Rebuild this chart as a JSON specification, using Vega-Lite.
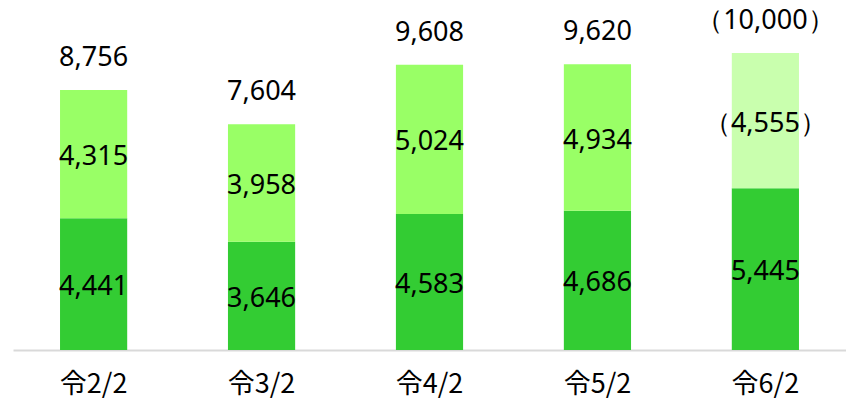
{
  "$schema": "https://vega.github.io/schema/vega-lite/v6.json",
  "width": 833,
  "height": 340,
  "autosize": {"type": "none"},
  "padding": {"left": 13, "top": 10, "right": 0, "bottom": 56},
  "config": {"view": {"stroke": null}, "font": "Noto Sans"},
  "datasets": {
    "segments": [
      {"period": "令2/2", "part": "a_base", "value": 4441, "label": "4,441"},
      {"period": "令2/2", "part": "b_upper", "value": 4315, "label": "4,315"},
      {"period": "令3/2", "part": "a_base", "value": 3646, "label": "3,646"},
      {"period": "令3/2", "part": "b_upper", "value": 3958, "label": "3,958"},
      {"period": "令4/2", "part": "a_base", "value": 4583, "label": "4,583"},
      {"period": "令4/2", "part": "b_upper", "value": 5024, "label": "5,024"},
      {"period": "令5/2", "part": "a_base", "value": 4686, "label": "4,686"},
      {"period": "令5/2", "part": "b_upper", "value": 4934, "label": "4,934"},
      {"period": "令6/2", "part": "a_base", "value": 5445, "label": "5,445"},
      {"period": "令6/2", "part": "c_forecast", "value": 4555, "label": "（4,555）"}
    ],
    "totals": [
      {"period": "令2/2", "total": 8756, "label": "8,756"},
      {"period": "令3/2", "total": 7604, "label": "7,604"},
      {"period": "令4/2", "total": 9608, "label": "9,608"},
      {"period": "令5/2", "total": 9620, "label": "9,620"},
      {"period": "令6/2", "total": 10000, "label": "（10,000）"}
    ]
  },
  "encoding": {
    "x": {
      "field": "period",
      "type": "nominal",
      "sort": null,
      "scale": {"paddingInner": 0.6, "paddingOuter": 0.28},
      "axis": {
        "title": null,
        "labelAngle": 0,
        "labelFont": "Noto Sans CJK JP",
        "labelFontSize": 27,
        "labelColor": "#000000",
        "labelPadding": 21,
        "ticks": false,
        "domainColor": "#d9d9d9",
        "domainWidth": 2,
        "grid": false
      }
    }
  },
  "layer": [
    {
      "data": {"name": "segments"},
      "transform": [
        {"stack": "value", "groupby": ["period"], "sort": [{"field": "part", "order": "ascending"}], "as": ["v0", "v1"]}
      ],
      "mark": {"type": "bar"},
      "encoding": {
        "y": {"field": "v0", "type": "quantitative", "scale": {"domain": [0, 11450]}, "axis": null},
        "y2": {"field": "v1"},
        "color": {
          "field": "part",
          "type": "nominal",
          "scale": {"domain": ["a_base", "b_upper", "c_forecast"], "range": ["#33cc33", "#99ff66", "#c9ffae"]},
          "legend": null
        }
      }
    },
    {
      "data": {"name": "segments"},
      "transform": [
        {"stack": "value", "groupby": ["period"], "sort": [{"field": "part", "order": "ascending"}], "as": ["v0", "v1"]},
        {"fold": ["v0", "v1"], "as": ["edge", "pos"]},
        {"aggregate": [{"op": "mean", "field": "pos", "as": "mid"}], "groupby": ["period", "part", "label"]}
      ],
      "mark": {"type": "text", "fontSize": 27, "color": "#000000", "baseline": "middle", "dy": 3},
      "encoding": {
        "y": {"field": "mid", "type": "quantitative", "scale": {"domain": [0, 11450]}, "axis": null},
        "text": {"field": "label"}
      }
    },
    {
      "data": {"name": "totals"},
      "mark": {"type": "text", "fontSize": 27, "color": "#000000", "baseline": "middle", "dy": -32},
      "encoding": {
        "y": {"field": "total", "type": "quantitative", "scale": {"domain": [0, 11450]}, "axis": null},
        "text": {"field": "label"}
      }
    }
  ]
}
